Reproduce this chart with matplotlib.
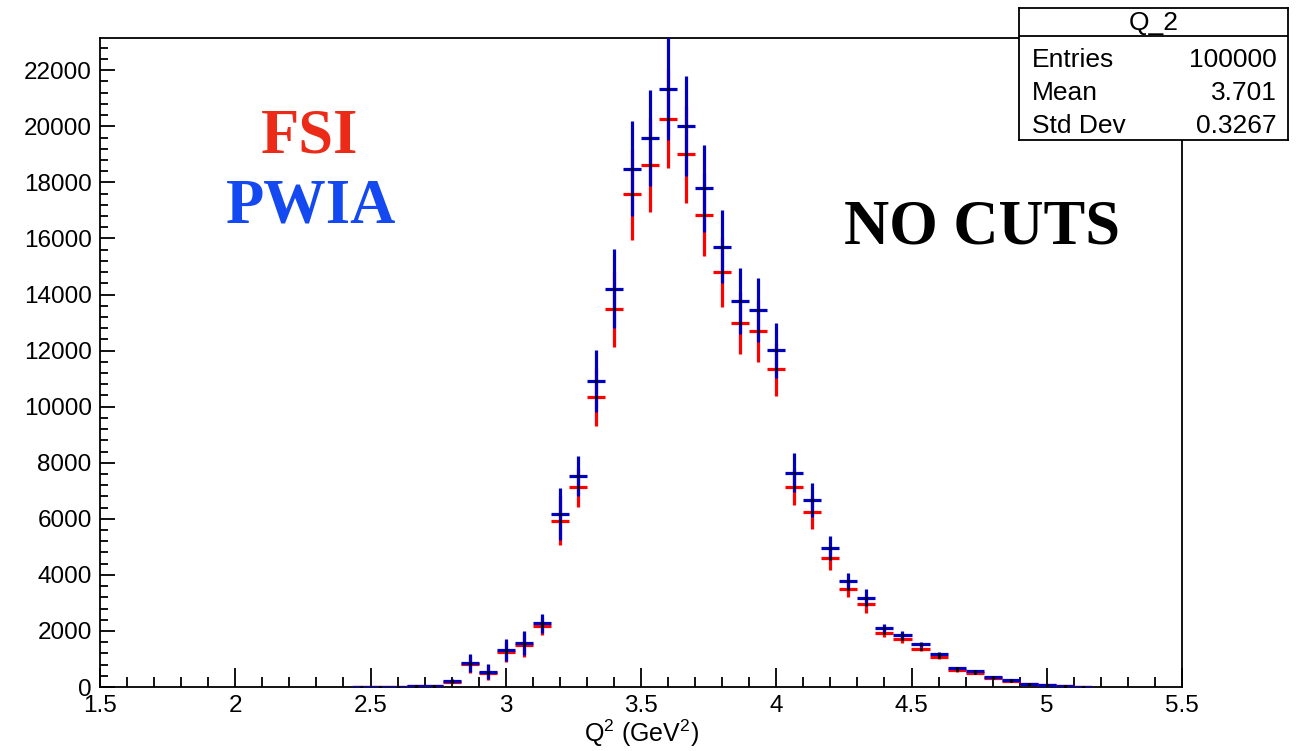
import numpy as np
import matplotlib
matplotlib.use("Agg")
import matplotlib.pyplot as plt
from matplotlib.ticker import MultipleLocator

# Q^2 bin centres (bin width 1/15 GeV^2)
q2 = [2.4667, 2.5333, 2.6, 2.6667, 2.7333, 2.8, 2.8667, 2.9333, 3.0, 3.0667,
      3.1333, 3.2, 3.2667, 3.3333, 3.4, 3.4667, 3.5333, 3.6, 3.6667, 3.7333,
      3.8, 3.8667, 3.9333, 4.0, 4.0667, 4.1333, 4.2, 4.2667, 4.3333, 4.4,
      4.4667, 4.5333, 4.6, 4.6667, 4.7333, 4.8, 4.8667, 4.9333, 5.0, 5.0667,
      5.1333]
bin_width = 1.0 / 15

# PWIA counts and errors
pwia = [8, 12, 15, 22, 45, 210, 860, 545, 1320, 1560,
        2270, 6170, 7520, 10910, 14210, 18490, 19570, 21345, 20000, 17790,
        15700, 13770, 13450, 12010, 7650, 6670, 4970, 3780, 3180, 2110,
        1860, 1520, 1160, 670, 570, 355, 240, 120, 70, 36,
        15]
pwia_err = [5, 6, 8, 10, 20, 60, 310, 275, 380, 435,
            330, 920, 720, 1100, 1400, 1690, 1710, 1845, 1790, 1550,
            1300, 1165, 1155, 990, 680, 595, 430, 275, 300, 150,
            130, 100, 80, 50, 45, 30, 25, 15, 10, 6,
            4]

# FSI counts and errors
fsi = [7, 11, 14, 20, 40, 190, 810, 505, 1250, 1490,
       2180, 5930, 7120, 10350, 13490, 17575, 18620, 20275, 19000, 16850,
       14795, 12980, 12690, 11330, 7140, 6230, 4590, 3480, 2950, 1940,
       1700, 1370, 1060, 600, 510, 320, 210, 100, 60, 30,
       12]
fsi_err = [5, 6, 8, 10, 19, 58, 300, 265, 365, 420,
           320, 866, 690, 1045, 1355, 1615, 1675, 1772, 1736, 1487,
           1258, 1117, 1105, 950, 652, 584, 417, 285, 300, 145,
           125, 95, 75, 48, 43, 28, 24, 14, 9, 5,
           4]

stats_rows = [("Entries", "100000"), ("Mean", "3.701"), ("Std Dev", "0.3267")]

plt.rcParams['font.family'] = ['Liberation Sans', 'DejaVu Sans']
plt.rcParams['mathtext.fontset'] = 'custom'
plt.rcParams['mathtext.rm'] = 'Liberation Sans'

fig = plt.figure(figsize=(13.02, 7.51), dpi=100)
ax = fig.add_axes([100 / 1302, 1 - 687 / 751, 1082 / 1302, 649 / 751])

half = [bin_width / 2] * len(q2)
ax.errorbar(q2, fsi, yerr=fsi_err, xerr=half, fmt='none', ecolor='#ff0000',
            elinewidth=2.3, capsize=0, zorder=3)
ax.errorbar(q2, pwia, yerr=pwia_err, xerr=half, fmt='none', ecolor='#0000c0',
            elinewidth=2.3, capsize=0, zorder=4)
ax.plot(q2, fsi, 'o', color='k', ms=1.2, zorder=5)
ax.plot(q2, pwia, 'o', color='k', ms=1.2, zorder=5)

ax.set_xlim(1.5, 5.5)
ax.set_ylim(0, 23150)
ax.xaxis.set_major_locator(MultipleLocator(0.5))
ax.xaxis.set_minor_locator(MultipleLocator(0.1))
ax.yaxis.set_major_locator(MultipleLocator(2000))
ax.yaxis.set_minor_locator(MultipleLocator(400))
ax.xaxis.set_major_formatter(plt.FuncFormatter(lambda v, p: f"{v:g}"))
ax.tick_params(axis='x', which='major', direction='in', length=14, width=1.3,
               labelsize=17.5, pad=6, top=False)
ax.tick_params(axis='x', which='minor', direction='in', length=7, width=1.3, top=False)
ax.tick_params(axis='y', which='major', direction='in', length=11, width=1.3,
               labelsize=17.5, pad=6, right=False)
ax.tick_params(axis='y', which='minor', direction='in', length=6, width=1.3, right=False)
for s in ax.spines.values():
    s.set_linewidth(1.3)

fig.text(641 / 1302, 1 - 733 / 751, r"Q$^{2}$ (GeV$^{2}$)", ha='center', va='center',
         fontsize=18)

serif = ['Liberation Serif', 'DejaVu Serif']
ax.text(0.194, 0.824, "FSI", transform=ax.transAxes, ha='center', va='baseline',
        fontsize=45, fontweight='bold', family=serif, color='#ec2a18')
ax.text(0.195, 0.716, "PWIA", transform=ax.transAxes, ha='center', va='baseline',
        fontsize=45, fontweight='bold', family=serif, color='#1448f0')
ax.text(0.815, 0.684, "NO CUTS", transform=ax.transAxes, ha='center', va='baseline',
        fontsize=45, fontweight='bold', family=serif, color='black')

# stats box
bx0, bx1, by0, by1 = 1019, 1288, 8, 140
sb = fig.add_axes([bx0 / 1302, 1 - by1 / 751, (bx1 - bx0) / 1302, (by1 - by0) / 751])
sb.set_xlim(bx0, bx1)
sb.set_ylim(by1, by0)
sb.set_xticks([])
sb.set_yticks([])
sb.set_facecolor('white')
for s in sb.spines.values():
    s.set_linewidth(1.3)
sb.axhline(36, color='black', lw=1.3)
sb.text((bx0 + bx1) / 2, 23, "Q_2", ha='center', va='center', fontsize=19)
for i, (name, val) in enumerate(stats_rows):
    yy = 60 + i * 33
    sb.text(1032, yy, name, ha='left', va='center', fontsize=19)
    sb.text(1277, yy, val, ha='right', va='center', fontsize=19)

fig.savefig("out.png", dpi=100)
